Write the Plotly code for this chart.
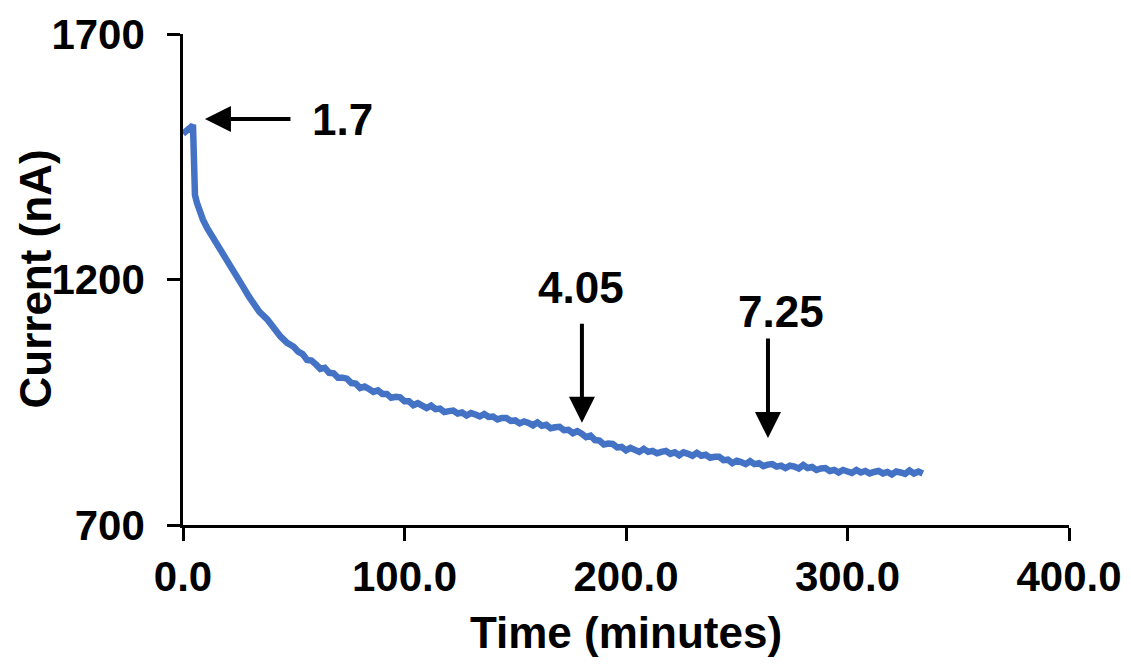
import plotly.graph_objects as go

# Elapsed time (minutes) and measured current (nA)
time_min = [
    0, 1, 2, 3, 4, 4.5, 4.8, 5.4, 6.3, 7.5, 9, 11, 13.5, 16, 18, 20, 22.5, 25,
    27, 29.5, 31.5, 34.5, 38, 41, 44, 47,
    50, 52, 54, 56, 58, 60, 62, 64, 66, 68, 70, 72, 74, 76, 78, 80, 82, 84,
    86, 88, 90, 92, 94, 96, 98, 100, 102, 104, 106, 108, 110, 112, 114, 116,
    118, 120, 122, 124, 126, 128, 130, 132, 134, 136, 138, 140, 142, 144,
    146, 148, 150, 152, 154, 156, 158, 160, 162, 164, 166, 168, 170, 172,
    174, 176, 178, 180, 182, 184, 186, 188, 190, 192, 194, 196, 198, 200,
    202, 204, 206, 208, 210, 212, 214, 216, 218, 220, 222, 224, 226, 228,
    230, 232, 234, 236, 238, 240, 242, 244, 246, 248, 250, 252, 254, 256,
    258, 260, 262, 264, 266, 268, 270, 272, 274, 276, 278, 280, 282, 284,
    286, 288, 290, 292, 294, 296, 298, 300, 302, 304, 306, 308, 310, 312,
    314, 316, 318, 320, 322, 324, 326, 328, 330, 332, 334,
]
current_na = [
    1497, 1500, 1503, 1507, 1512, 1515, 1400, 1372, 1356, 1339, 1322, 1304,
    1286, 1271, 1255, 1238, 1220, 1200, 1186, 1167, 1153, 1134, 1119, 1099,
    1084, 1071,
    1063, 1053, 1048, 1036, 1035, 1027, 1018, 1020, 1010, 1009, 1000, 1000,
    998, 989, 988, 979, 982, 977, 971, 974, 967, 967, 959, 961, 960, 952,
    952, 944, 948, 943, 938, 943, 936, 937, 930, 932, 933, 927, 929, 923,
    928, 925, 921, 926, 920, 921, 915, 918, 918, 912, 913, 907, 911, 908,
    903, 909, 902, 904, 897, 899, 900, 893, 894, 887, 891, 886, 879, 882,
    873, 872, 864, 866, 865, 858, 859, 852, 857, 853, 849, 855, 849, 851,
    846, 849, 851, 845, 848, 842, 848, 845, 841, 847, 841, 843, 837, 839,
    839, 832, 833, 826, 831, 828, 824, 830, 824, 826, 820, 823, 824, 819,
    821, 816, 821, 819, 815, 822, 816, 818, 812, 815, 816, 810, 812, 807,
    812, 809, 806, 812, 807, 810, 805, 808, 810, 805, 808, 803, 809, 807,
    804, 811, 805, 809, 805,
]

x_ticks = [0, 100, 200, 300, 400]
y_ticks = [700, 1200, 1700]

FONT = "Liberation Sans, Arial, sans-serif"
BLUE = "#4472C4"

fig = go.Figure()
fig.add_trace(go.Scatter(
    x=time_min, y=current_na, mode="lines",
    line=dict(color=BLUE, width=6.5),
    showlegend=False, hoverinfo="skip",
))

axis_common = dict(
    showline=True, linecolor="black", linewidth=2.5,
    ticks="outside", ticklen=13, tickwidth=2.5, tickcolor="black",
    showgrid=False, zeroline=False,
    tickfont=dict(family=FONT, size=42, color="black", weight="bold"),
)

fig.update_xaxes(
    range=[0, 400], tickvals=x_ticks, tickformat=".1f",
    ticklabelstandoff=0,
    title=dict(text="Time (minutes)", standoff=19,
               font=dict(family=FONT, size=44, color="black", weight="bold")),
    **axis_common,
)
fig.update_yaxes(
    range=[700, 1700], tickvals=y_ticks, tickformat="d",
    ticklabelstandoff=14,
    **axis_common,
)

# Vertical y-axis title
fig.add_annotation(
    text="Current (nA)", textangle=-90, showarrow=False,
    xref="paper", yref="paper", x=0, y=0.5, xshift=-148,
    xanchor="center", yanchor="middle",
    font=dict(family=FONT, size=44, color="black", weight="bold"),
)

# Arrows marking the pH changes
arrow_style = dict(showarrow=True, arrowhead=2, arrowsize=1.3, arrowwidth=4,
                   arrowcolor="black", standoff=0, text="",
                   xref="x", yref="y", axref="x", ayref="y")
fig.add_annotation(x=9.9, y=1527, ax=49.2, ay=1527, **arrow_style)
fig.add_annotation(x=180.1, y=908, ax=180.1, ay=1113, **arrow_style)
fig.add_annotation(x=264.1, y=877, ax=264.1, ay=1083, **arrow_style)

label_font = dict(family=FONT, size=44, color="black", weight="bold")
for lx, ly, txt in [(71.8, 1525, "1.7"), (179.7, 1183, "4.05"), (270.0, 1134, "7.25")]:
    fig.add_annotation(x=lx, y=ly, text=txt, showarrow=False,
                       xref="x", yref="y", xanchor="center", yanchor="middle",
                       font=label_font)

fig.update_layout(
    width=1131, height=664,
    margin=dict(l=183, r=62, t=34, b=139, autoexpand=False),
    paper_bgcolor="white", plot_bgcolor="white",
)

fig.write_html("out.html")
